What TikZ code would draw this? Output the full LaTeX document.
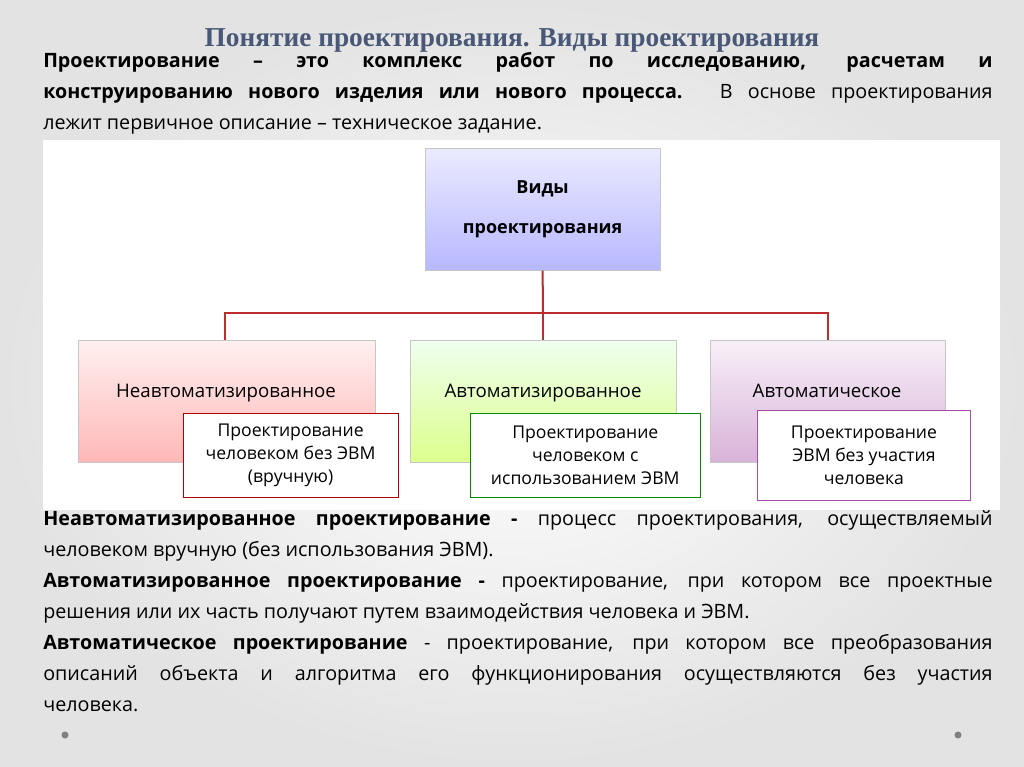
\documentclass[tikz,border=0pt]{standalone}
\usepackage{fontspec}
\setmainfont{Open Sans}
\newfontfamily\titlefont{Liberation Serif}
\definecolor{ttl}{RGB}{72,88,118}
\definecolor{conn}{RGB}{190,45,45}
\tikzset{
 x=0.75pt,y=-0.75pt,
 catbox/.style={draw=gray!45,minimum height=91.5pt,align=center,anchor=north west,inner sep=0pt},
 cattext/.style={font=\fontsize{14}{17}\selectfont,anchor=base},
 subbox/.style={draw,fill=white,align=center,anchor=north west,inner sep=0pt,font=\fontsize{13.2}{17}\selectfont},
 para/.style={anchor=north west,inner sep=0pt,text width=712pt,align=justify,font=\fontsize{14.8}{23.3}\selectfont},
}
\begin{document}
\begin{tikzpicture}
\useasboundingbox (0,0) rectangle (1024,767);
\shade[inner color=white,outer color=gray!22] (0,0) rectangle (1024,767);
\fill[white] (43,140) rectangle (1000,510);
\node[font=\titlefont\bfseries\fontsize{20.5}{24}\selectfont,text=ttl] (title) at (512,40) {Понятие проектирования. Виды проектирования};
\node[para] (intro) at (43,52)
{\textbf{Проектирование – это комплекс работ по исследованию, расчетам и\linebreak конструированию нового изделия или нового процесса.} В основе проектирования\linebreak лежит первичное описание – техническое задание.};
\node[catbox,minimum width=176pt,top color=blue!8,bottom color=blue!28,font=\bfseries\fontsize{13.5}{30}\selectfont] (top) at (425,148) {Виды\\проектирования};
\node[catbox,minimum width=223pt,top color=red!6,bottom color=red!28] (b1) at (78,340) {};
\node[catbox,minimum width=199.5pt,top color=green!6,bottom color=green!30!yellow!45] (b2) at (410,340) {};
\node[catbox,minimum width=176pt,top color=violet!6,bottom color=violet!30] (b3) at (710,340) {};
\node[cattext] (t1) at (226,397) {Неавтоматизированное};
\node[cattext] (t2) at (543,397) {Автоматизированное};
\node[cattext] (t3) at (827,397) {Автоматическое};
\node[subbox,draw=red!70!black,minimum width=161pt,minimum height=63pt] (s1) at (183,413) {Проектирование\\человеком без ЭВМ\\(вручную)};
\node[subbox,draw=green!55!black,minimum width=172.5pt,minimum height=63pt] (s2) at (470,413) {Проектирование\\человеком с\\использованием ЭВМ};
\node[subbox,draw=violet!70,minimum width=160pt,minimum height=67.5pt] (s3) at (757,410) {Проектирование\\ЭВМ без участия\\человека};
\coordinate (m) at (543,313);
\draw[conn,line width=1.5pt] (top.south) -- (m);
\draw[conn,line width=1.5pt] (b1.north -| 225,0) |- (m) -| (b3.north -| 828,0);
\draw[conn,line width=1.5pt] (m) -- (b2.north -| m);
\node[para] (defs) at (43,510)
{\textbf{Неавтоматизированное проектирование -} процесс проектирования, осуществляемый\linebreak человеком вручную (без использования ЭВМ).\\
\textbf{Автоматизированное проектирование -} проектирование, при котором все проектные\linebreak решения или их часть получают путем взаимодействия человека и ЭВМ.\\
\textbf{Автоматическое проектирование} - проектирование, при котором все преобразования\linebreak описаний объекта и алгоритма его функционирования осуществляются без участия\linebreak человека.};
\fill[gray] (65,735) circle (3.5);
\fill[gray] (958,735) circle (3.5);
\end{tikzpicture}
\end{document}
